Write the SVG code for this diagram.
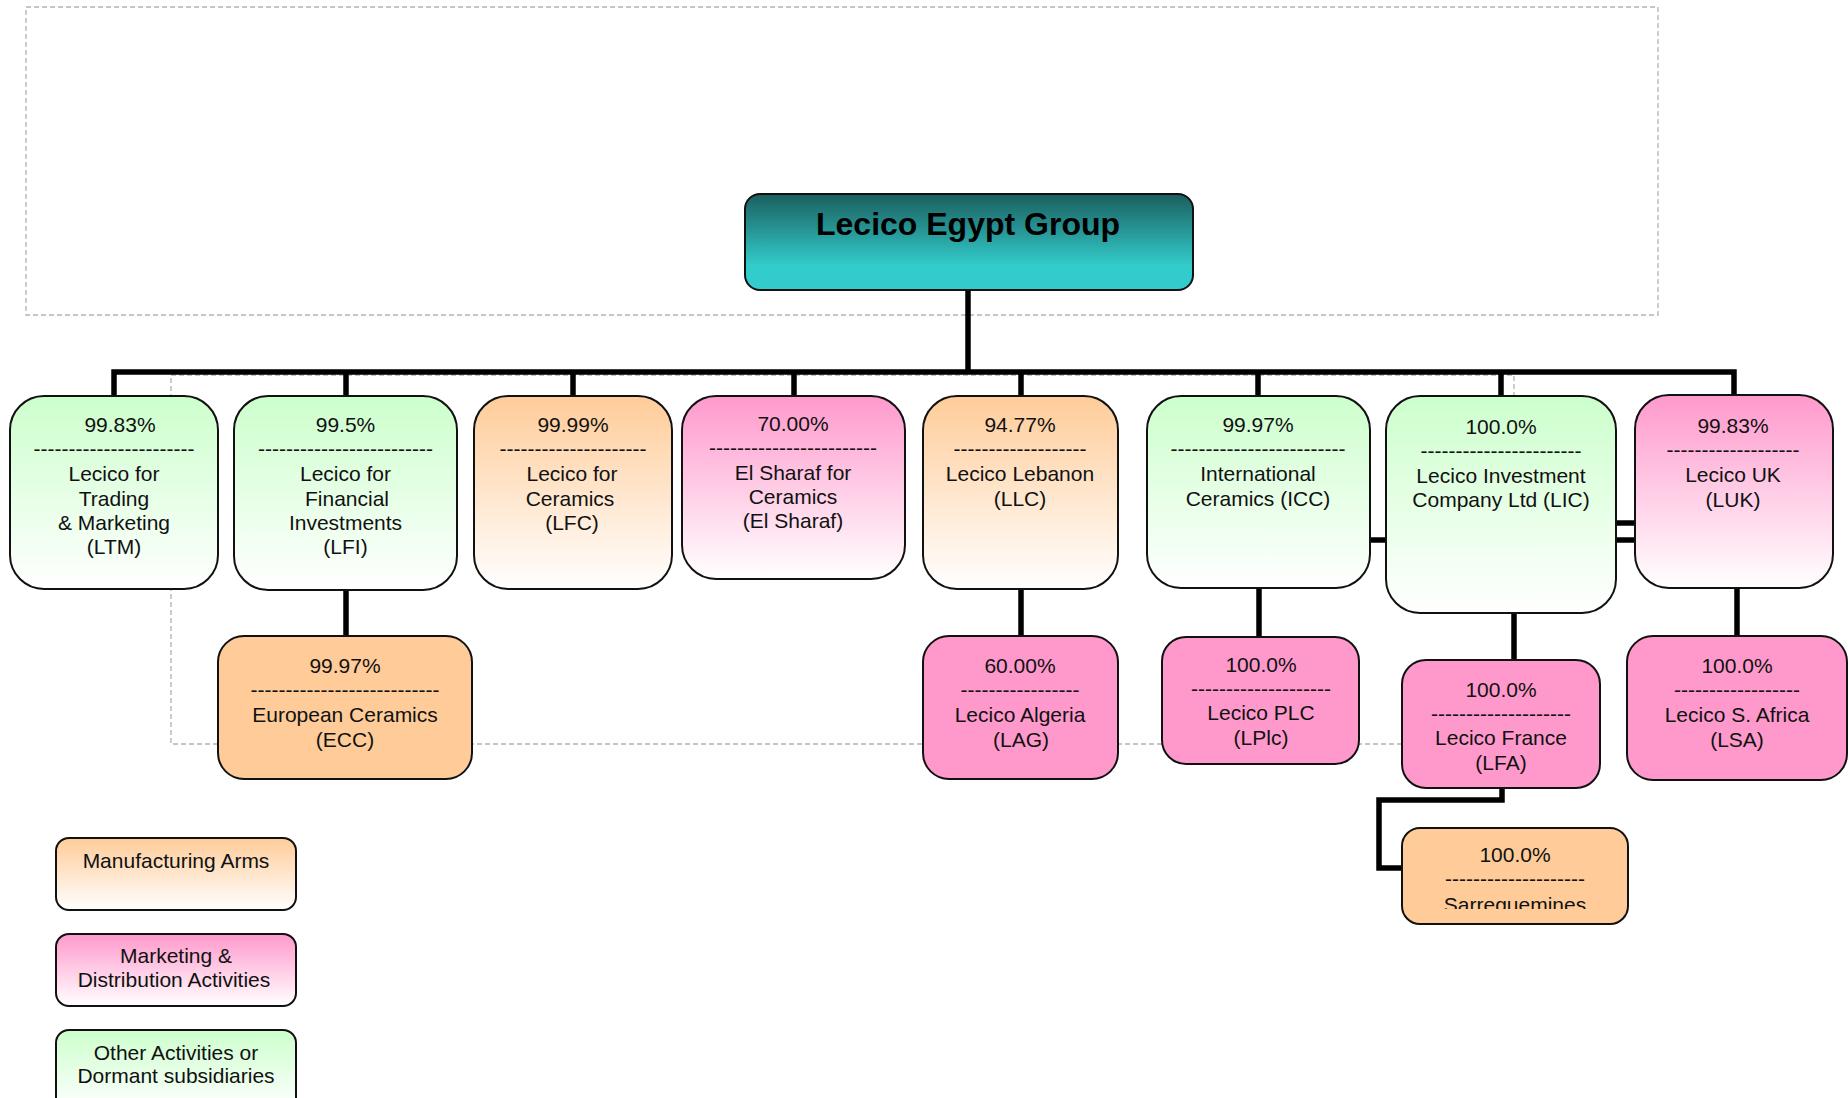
<svg xmlns="http://www.w3.org/2000/svg" width="1848" height="1098" viewBox="0 0 1848 1098">
<defs>
<linearGradient id="gRoot" x1="0" y1="0" x2="0" y2="1">
<stop offset="0" stop-color="#1b5e5e"/><stop offset="0.75" stop-color="#33cccc"/><stop offset="1" stop-color="#33cccc"/>
</linearGradient>
<linearGradient id="gGreen" x1="0" y1="0" x2="0" y2="1">
<stop offset="0" stop-color="#ccffcc"/><stop offset="1" stop-color="#ffffff"/>
</linearGradient>
<linearGradient id="gOrange" x1="0" y1="0" x2="0" y2="1">
<stop offset="0" stop-color="#ffcc99"/><stop offset="1" stop-color="#ffffff"/>
</linearGradient>
<linearGradient id="gPink" x1="0" y1="0" x2="0" y2="1">
<stop offset="0" stop-color="#ff99cc"/><stop offset="1" stop-color="#ffffff"/>
</linearGradient>
<clipPath id="clipSarr"><rect x="1402" y="828" width="226" height="81"/></clipPath>
<style>
.box{stroke:#111;stroke-width:2}
.green{fill:url(#gGreen)}
.orange{fill:url(#gOrange)}
.pink{fill:url(#gPink)}
.sorange{fill:#ffcc99}
.spink{fill:#ff99cc}
.t{font-family:"Liberation Sans",Arial,sans-serif;font-size:21px;fill:#111;text-anchor:middle}
.title{font-family:"Liberation Sans",Arial,sans-serif;font-size:32px;font-weight:bold;fill:#000;text-anchor:middle}
.dash{fill:none;stroke:#b3b3b3;stroke-width:1.3;stroke-dasharray:5 3}
.conn{fill:none;stroke:#000;stroke-width:5.5;stroke-linejoin:miter}
</style>
</defs>
<rect width="1848" height="1098" fill="#fff"/>
<g id="frames">
<rect class="dash" x="26" y="7" width="1632" height="308"/>
<rect class="dash" x="171" y="375" width="1343" height="369"/>
</g>
<g id="connectors">
<path class="conn" d="M968,290 V372"/>
<path class="conn" d="M114,396 V372 H1734 V395"/>
<path class="conn" d="M346,372 V396"/>
<path class="conn" d="M573,372 V397"/>
<path class="conn" d="M794,372 V396"/>
<path class="conn" d="M1021,372 V396"/>
<path class="conn" d="M1258,372 V396"/>
<path class="conn" d="M1501,372 V396"/>
<path class="conn" d="M346,590 V636"/>
<path class="conn" d="M1021,589 V636"/>
<path class="conn" d="M1259,588 V637"/>
<path class="conn" d="M1514,613 V660"/>
<path class="conn" d="M1737,588 V636"/>
<path class="conn" d="M1502,788 V800 H1379 V868 H1402"/>
<path class="conn" d="M1370,540 H1386"/>
<path class="conn" d="M1616,523 H1635"/>
<path class="conn" d="M1616,540 H1635"/>
</g>
<g id="root">
<rect class="box" x="745" y="194" width="448" height="96" rx="15" fill="url(#gRoot)"/>
<text class="title" x="968" y="235">Lecico Egypt Group</text>
</g>
<g id="LTM">
<rect class="box green" x="10" y="396" width="208" height="193" rx="34"/>
<text class="t" x="120" y="432">99.83%</text>
<text class="t" x="114" y="456">-----------------------</text>
<text class="t" x="114" y="481">Lecico for</text>
<text class="t" x="114" y="506">Trading</text>
<text class="t" x="114" y="530">&amp; Marketing</text>
<text class="t" x="114" y="554">(LTM)</text>
</g>
<g id="LFI">
<rect class="box green" x="234" y="396" width="223" height="194" rx="34"/>
<text class="t" x="345.5" y="432">99.5%</text>
<text class="t" x="345.5" y="456">-------------------------</text>
<text class="t" x="345.5" y="481">Lecico for</text>
<text class="t" x="347" y="506">Financial</text>
<text class="t" x="345.5" y="530">Investments</text>
<text class="t" x="345.5" y="554">(LFI)</text>
</g>
<g id="LFC">
<rect class="box orange" x="474" y="396" width="198" height="193" rx="34"/>
<text class="t" x="573" y="432">99.99%</text>
<text class="t" x="573" y="456">---------------------</text>
<text class="t" x="572" y="481">Lecico for</text>
<text class="t" x="570" y="506">Ceramics</text>
<text class="t" x="572" y="530">(LFC)</text>
</g>
<g id="ElSharaf">
<rect class="box pink" x="682" y="396" width="223" height="183" rx="34"/>
<text class="t" x="793" y="431">70.00%</text>
<text class="t" x="793" y="455">------------------------</text>
<text class="t" x="793" y="480">El Sharaf for</text>
<text class="t" x="793" y="504">Ceramics</text>
<text class="t" x="793" y="528">(El Sharaf)</text>
</g>
<g id="LLC">
<rect class="box orange" x="923" y="396" width="195" height="193" rx="34"/>
<text class="t" x="1020" y="432">94.77%</text>
<text class="t" x="1020" y="456">-------------------</text>
<text class="t" x="1020" y="481">Lecico Lebanon</text>
<text class="t" x="1020" y="506">(LLC)</text>
</g>
<g id="ICC">
<rect class="box green" x="1147" y="396" width="223" height="192" rx="34"/>
<text class="t" x="1258" y="432">99.97%</text>
<text class="t" x="1258" y="456">-------------------------</text>
<text class="t" x="1258" y="481">International</text>
<text class="t" x="1258" y="506">Ceramics (ICC)</text>
</g>
<g id="LIC">
<rect class="box green" x="1386" y="396" width="230" height="217" rx="34"/>
<text class="t" x="1501" y="434">100.0%</text>
<text class="t" x="1501" y="458">-----------------------</text>
<text class="t" x="1501" y="483">Lecico Investment</text>
<text class="t" x="1501" y="507">Company Ltd (LIC)</text>
</g>
<g id="LUK">
<rect class="box pink" x="1635" y="395" width="198" height="193" rx="34"/>
<text class="t" x="1733" y="433">99.83%</text>
<text class="t" x="1733" y="457">-------------------</text>
<text class="t" x="1733" y="482">Lecico UK</text>
<text class="t" x="1733" y="507">(LUK)</text>
</g>
<g id="ECC">
<rect class="box sorange" x="218" y="636" width="254" height="143" rx="26"/>
<text class="t" x="345" y="673">99.97%</text>
<text class="t" x="345" y="697">---------------------------</text>
<text class="t" x="345" y="722">European Ceramics</text>
<text class="t" x="345" y="747">(ECC)</text>
</g>
<g id="LAG">
<rect class="box spink" x="923" y="636" width="195" height="143" rx="26"/>
<text class="t" x="1020" y="673">60.00%</text>
<text class="t" x="1020" y="697">-----------------</text>
<text class="t" x="1020" y="722">Lecico Algeria</text>
<text class="t" x="1021" y="747">(LAG)</text>
</g>
<g id="LPlc">
<rect class="box spink" x="1162" y="637" width="197" height="127" rx="24"/>
<text class="t" x="1261" y="672">100.0%</text>
<text class="t" x="1261" y="696">--------------------</text>
<text class="t" x="1261" y="720">Lecico PLC</text>
<text class="t" x="1261" y="745">(LPlc)</text>
</g>
<g id="LFA">
<rect class="box spink" x="1402" y="660" width="198" height="128" rx="24"/>
<text class="t" x="1501" y="697">100.0%</text>
<text class="t" x="1501" y="721">--------------------</text>
<text class="t" x="1501" y="745">Lecico France</text>
<text class="t" x="1501" y="770">(LFA)</text>
</g>
<g id="LSA">
<rect class="box spink" x="1627" y="636" width="220" height="144" rx="26"/>
<text class="t" x="1737" y="673">100.0%</text>
<text class="t" x="1737" y="697">------------------</text>
<text class="t" x="1737" y="722">Lecico S. Africa</text>
<text class="t" x="1737" y="747">(LSA)</text>
</g>
<g id="Sarreguemines">
<rect class="box sorange" x="1402" y="828" width="226" height="96" rx="18"/>
<text class="t" x="1515" y="862">100.0%</text>
<text class="t" x="1515" y="886">--------------------</text>
<text class="t" x="1515" y="912" clip-path="url(#clipSarr)">Sarreguemines</text>
</g>
<g id="legend-manufacturing">
<rect class="box orange" x="56" y="838" width="240" height="72" rx="13"/>
<text class="t" x="176" y="868">Manufacturing Arms</text>
</g>
<g id="legend-marketing">
<rect class="box pink" x="56" y="934" width="240" height="72" rx="13"/>
<text class="t" x="176" y="963">Marketing &amp;</text>
<text class="t" x="174" y="987">Distribution Activities</text>
</g>
<g id="legend-other">
<rect class="box green" x="56" y="1030" width="240" height="80" rx="13"/>
<text class="t" x="176" y="1060">Other Activities or</text>
<text class="t" x="176" y="1083">Dormant subsidiaries</text>
</g>
</svg>
